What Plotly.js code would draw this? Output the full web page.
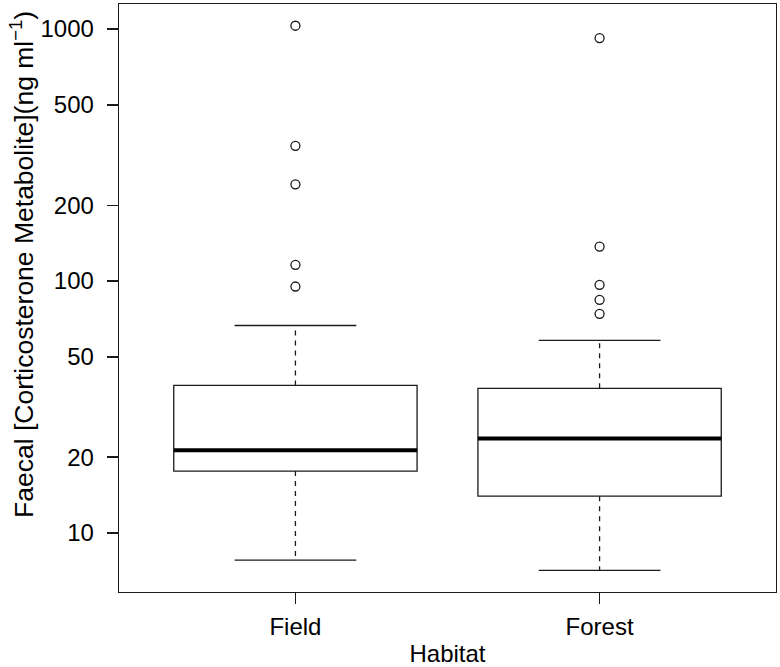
<!DOCTYPE html>
<html><head><meta charset="utf-8">
<script src="https://cdn.plot.ly/plotly-3.0.1.min.js"></script>
<style>html,body{margin:0;padding:0;background:#fff}</style>
</head><body><div id="chart" style="width:780px;height:667px"></div>
<script>
// ---- data ----
const habitats = ['Field', 'Forest'];
const positions = [1, 2];
const q1 = [17.6, 14.0];
const median = [21.3, 23.7];
const q3 = [38.5, 37.5];
const lowerWhisker = [7.8, 7.1];
const upperWhisker = [66.6, 58.1];
const fieldOutliers = [1031, 344, 242, 116, 95.1];
const forestOutliers = [921, 137, 96.6, 84.2, 74.1];
const yTickVals = [10, 20, 50, 100, 200, 500, 1000];
const yTickText = ['10', '20', '50', '100', '200', '500', '1000'];

// ---- styling ----
const FONT = 'Liberation Sans, Arial, Helvetica, sans-serif';
const INK = '#1a1a1a';
const BOXW = 0.8, CAPW = 0.4;
const outliers = [fieldOutliers, forestOutliers];

const traces = [];
positions.forEach((p, i) => {
  traces.push({
    type: 'box', x: [p], q1: [q1[i]], median: [median[i]], q3: [q3[i]],
    lowerfence: [q1[i]], upperfence: [q3[i]], width: BOXW, whiskerwidth: 0,
    boxpoints: false, fillcolor: 'white', line: {color: INK, width: 1.3},
    name: habitats[i], showlegend: false, hoverinfo: 'skip'
  });
  // dashed whiskers
  traces.push({
    type: 'scatter', mode: 'lines',
    x: [p, p, null, p, p], y: [q3[i], upperWhisker[i], null, q1[i], lowerWhisker[i]],
    line: {color: INK, width: 1.3, dash: '5px,5px'}, showlegend: false, hoverinfo: 'skip'
  });
  // whisker caps
  traces.push({
    type: 'scatter', mode: 'lines',
    x: [p - CAPW / 2, p + CAPW / 2, null, p - CAPW / 2, p + CAPW / 2],
    y: [upperWhisker[i], upperWhisker[i], null, lowerWhisker[i], lowerWhisker[i]],
    line: {color: INK, width: 1.3}, showlegend: false, hoverinfo: 'skip'
  });
  // thick median
  traces.push({
    type: 'scatter', mode: 'lines',
    x: [p - BOXW / 2, p + BOXW / 2], y: [median[i], median[i]],
    line: {color: '#000', width: 4}, showlegend: false, hoverinfo: 'skip'
  });
  // outliers
  traces.push({
    type: 'scatter', mode: 'markers',
    x: outliers[i].map(() => p), y: outliers[i],
    marker: {symbol: 'circle-open', size: 9, color: INK, line: {width: 1.3, color: INK}},
    showlegend: false, hoverinfo: 'skip'
  });
});

const layout = {
  width: 780, height: 667,
  margin: {l: 119, r: 4, t: 4, b: 75},
  paper_bgcolor: 'white', plot_bgcolor: 'white',
  showlegend: false,
  font: {family: FONT, color: '#000', size: 24},
  xaxis: {
    type: 'linear', range: [0.42, 2.58],
    tickmode: 'array', tickvals: positions, ticktext: habitats,
    ticks: 'outside', ticklen: 11, tickwidth: 1.3, tickcolor: INK,
    ticklabelstandoff: 2,
    showline: true, mirror: true, linecolor: INK, linewidth: 1.3,
    showgrid: false, zeroline: false,
    tickfont: {family: FONT, size: 24, color: '#000'},
    title: {text: 'Habitat', font: {family: FONT, size: 24, color: '#000'}, standoff: 8}
  },
  yaxis: {
    type: 'log', range: [0.7657, 3.0995],
    tickmode: 'array', tickvals: yTickVals, ticktext: yTickText,
    ticks: 'outside', ticklen: 11, tickwidth: 1.3, tickcolor: INK,
    ticklabelstandoff: 8,
    showline: true, mirror: true, linecolor: INK, linewidth: 1.3,
    showgrid: false, zeroline: false,
    tickfont: {family: FONT, size: 24, color: '#000'}
  },
  annotations: [{
    text: 'Faecal [Corticosterone Metabolite](ng ml<sup>−1</sup>)',
    textangle: -90, xref: 'paper', yref: 'paper',
    x: (22 - 119) / 657, y: (592 - 265) / 588, xanchor: 'center', yanchor: 'middle',
    showarrow: false, font: {family: FONT, size: 26.5, color: '#000'}
  }]
};

Plotly.newPlot('chart', traces, layout, {displayModeBar: false, staticPlot: true});
</script>
</body></html>
